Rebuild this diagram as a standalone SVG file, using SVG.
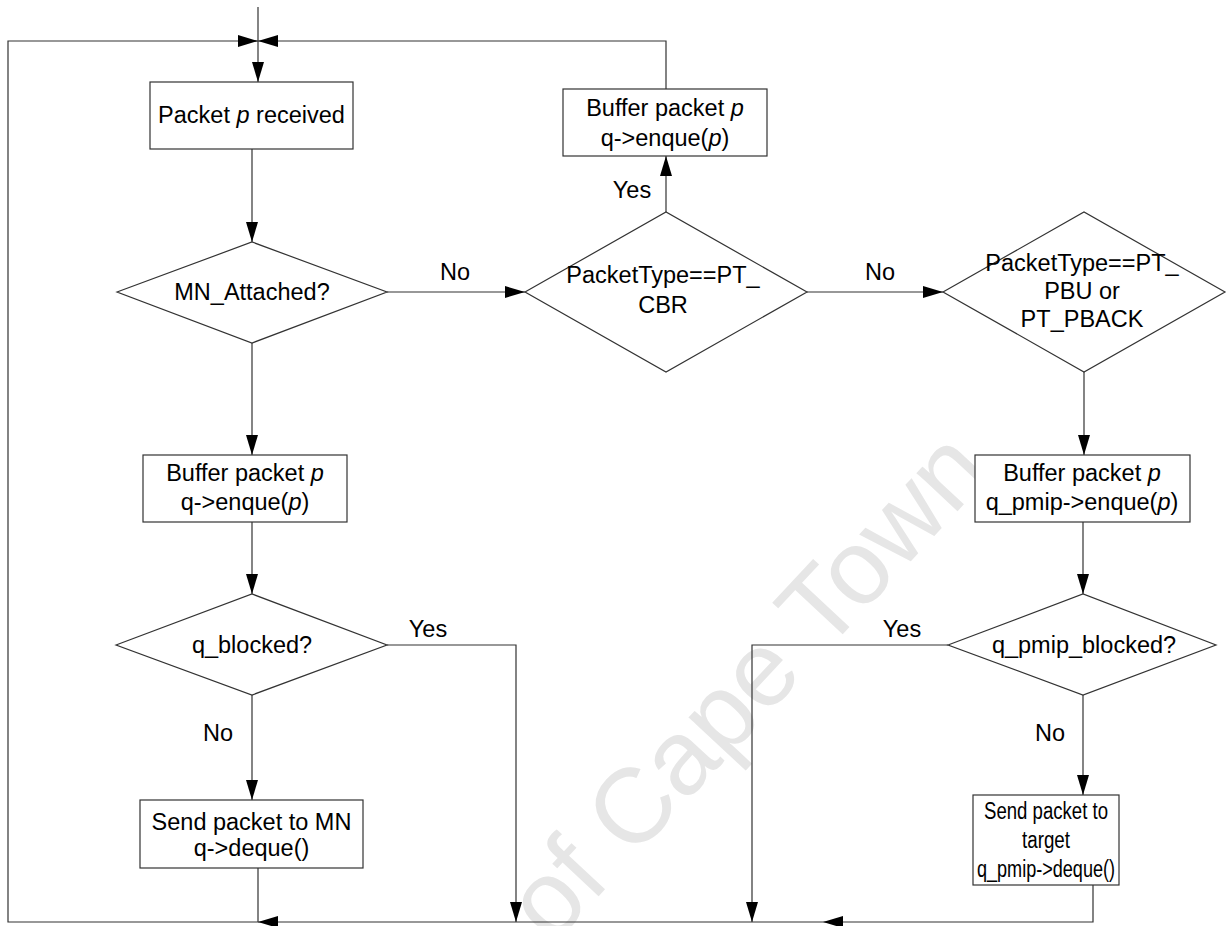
<svg xmlns="http://www.w3.org/2000/svg" width="1227" height="926" viewBox="0 0 1227 926">
<style>
.t{font-family:"Liberation Sans",Arial,sans-serif;font-size:23.5px;fill:#000;text-anchor:middle;dominant-baseline:central}
.n{fill:#fff;stroke:#333;stroke-width:1.2}
.c{fill:none;stroke:#333;stroke-width:1.2}
.wm{font-family:"Liberation Sans",Arial,sans-serif;font-size:106px;fill:#e6e6e6}
</style>
<defs>
<marker id="ah" markerUnits="userSpaceOnUse" markerWidth="20" markerHeight="12" refX="20" refY="6" orient="auto">
<path d="M0,0 L20,6 L0,12 z" fill="#000"/>
</marker>
</defs>
<rect width="1227" height="926" fill="#fff"/>
<text class="wm" transform="translate(552,946) rotate(-47)">of Cape Town</text>
<g id="connectors">
<path class="c" d="M258,7 V82" marker-end="url(#ah)"/>
<path class="c" d="M258,868 V922 H8 V41 H258" marker-end="url(#ah)"/>
<path class="c" d="M666,89 V41 H258" marker-end="url(#ah)"/>
<path class="c" d="M252,149 V242" marker-end="url(#ah)"/>
<path class="c" d="M387,292 H525" marker-end="url(#ah)"/>
<path class="c" d="M666,212 V156" marker-end="url(#ah)"/>
<path class="c" d="M807,292 H943" marker-end="url(#ah)"/>
<path class="c" d="M252,343 V455" marker-end="url(#ah)"/>
<path class="c" d="M1084,372 V455" marker-end="url(#ah)"/>
<path class="c" d="M252,522 V594" marker-end="url(#ah)"/>
<path class="c" d="M1083,522 V594" marker-end="url(#ah)"/>
<path class="c" d="M387,645 H516 V922" marker-end="url(#ah)"/>
<path class="c" d="M948,645 H752 V922" marker-end="url(#ah)"/>
<path class="c" d="M252,695 V800" marker-end="url(#ah)"/>
<path class="c" d="M1083,695 V795" marker-end="url(#ah)"/>
<path class="c" d="M1093,885 V922 H823" marker-end="url(#ah)"/>
<path class="c" d="M823,922 H258" marker-end="url(#ah)"/>
<text class="t" x="455" y="272">No</text>
<text class="t" x="880" y="272">No</text>
<text class="t" x="632" y="190">Yes</text>
<text class="t" x="428" y="629">Yes</text>
<text class="t" x="902" y="629">Yes</text>
<text class="t" x="218" y="733">No</text>
<text class="t" x="1050" y="733">No</text>
</g>
<g id="received">
<rect class="n" x="150" y="82" width="203" height="67"/>
<text class="t" x="251.5" y="115">Packet <tspan font-style="italic">p</tspan> received</text>
</g>
<g id="mn_attached">
<polygon class="n" points="117,292 252,242 387,292 252,343"/>
<text class="t" x="252" y="292">MN_Attached?</text>
</g>
<g id="is_cbr">
<polygon class="n" points="525,292 666,212 807,292 666,372"/>
<text class="t" x="663" y="275">PacketType==PT_</text>
<text class="t" x="663" y="305">CBR</text>
</g>
<g id="buffer_top">
<rect class="n" x="563" y="89" width="204" height="67"/>
<text class="t" x="665" y="108">Buffer packet <tspan font-style="italic">p</tspan></text>
<text class="t" x="665" y="138">q-&gt;enque(<tspan font-style="italic">p</tspan>)</text>
</g>
<g id="is_pbu">
<polygon class="n" points="943,292 1084,212 1225,292 1084,372"/>
<text class="t" x="1082" y="263">PacketType==PT_</text>
<text class="t" x="1082" y="291">PBU or</text>
<text class="t" x="1082" y="319">PT_PBACK</text>
</g>
<g id="buffer_left">
<rect class="n" x="143" y="455" width="204" height="67"/>
<text class="t" x="245" y="473">Buffer packet <tspan font-style="italic">p</tspan></text>
<text class="t" x="245" y="502">q-&gt;enque(<tspan font-style="italic">p</tspan>)</text>
</g>
<g id="buffer_right">
<rect class="n" x="975" y="455" width="215" height="67"/>
<text class="t" x="1082" y="473">Buffer packet <tspan font-style="italic">p</tspan></text>
<text class="t" x="1082" y="502">q_pmip-&gt;enque(<tspan font-style="italic">p</tspan>)</text>
</g>
<g id="q_blocked">
<polygon class="n" points="116,645 252,594 387,645 252,695"/>
<text class="t" x="252" y="645">q_blocked?</text>
</g>
<g id="q_pmip_blocked">
<polygon class="n" points="948,645 1083,594 1216,645 1083,695"/>
<text class="t" x="1084" y="645">q_pmip_blocked?</text>
</g>
<g id="send_mn">
<rect class="n" x="140" y="800" width="223" height="68"/>
<text class="t" x="251.5" y="822">Send packet to MN</text>
<text class="t" x="251.5" y="848">q-&gt;deque()</text>
</g>
<g id="send_target">
<rect class="n" x="973" y="795" width="146" height="90"/>
<text class="t" x="1046" y="811" textLength="124" lengthAdjust="spacingAndGlyphs">Send packet to</text>
<text class="t" x="1046" y="840" textLength="48" lengthAdjust="spacingAndGlyphs">target</text>
<text class="t" x="1046" y="869" textLength="138" lengthAdjust="spacingAndGlyphs">q_pmip-&gt;deque()</text>
</g>
</svg>
